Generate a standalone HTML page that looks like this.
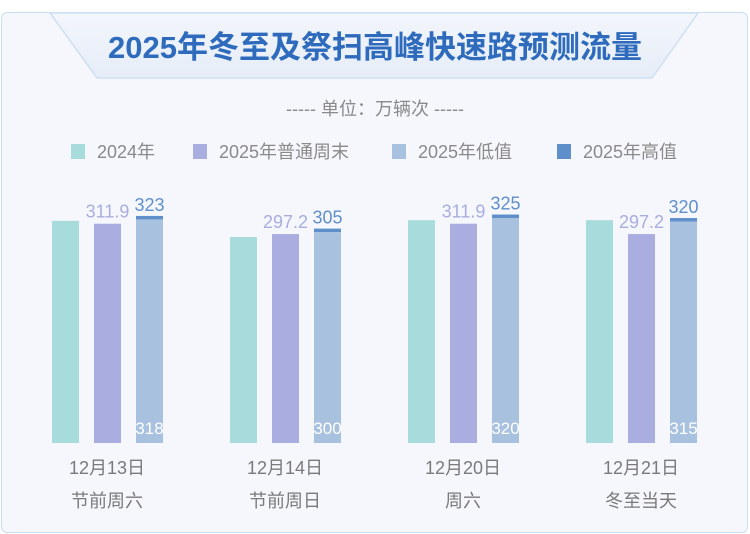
<!DOCTYPE html>
<html><head><meta charset="utf-8"><style>
body{margin:0;width:750px;height:534px;overflow:hidden;background:#fff;font-family:"Liberation Sans","Noto Sans CJK SC",sans-serif;}
#card{position:absolute;left:1px;top:12px;width:747px;height:521px;background:#f5f7fc;border:1.5px solid #c9def0;border-radius:6px;box-sizing:border-box;}
</style></head><body>
<div id="card"></div>
<svg id="chart" width="750" height="534" style="position:absolute;left:0;top:0">
<defs><linearGradient id="bg" x1="0" y1="0" x2="0" y2="1"><stop offset="0" stop-color="#f3f6fb"/><stop offset="1" stop-color="#e6edf8"/></linearGradient></defs>
<polygon points="50,13 698,13 652,78 97,78" fill="url(#bg)" stroke="#cfe0f1" stroke-width="1.5"/>
<text x="375" y="58" text-anchor="middle" font-size="31" font-weight="bold" fill="#2e6bbd">2025年冬至及祭扫高峰快速路预测流量</text>
<text x="375" y="115" text-anchor="middle" font-size="18" fill="#8a8a8a">----- 单位：万辆次 -----</text>
<g id="legend"></g><g id="bars"></g>
</svg>
<script>
const categories=["12月13日","12月14日","12月20日","12月21日"];
const subLabels=["节前周六","节前周日","周六","冬至当天"];
const v2024=[316,293,317,317];
const vWeekend=[311.9,297.2,311.9,297.2];
const vLow=[318,300,320,315];
const vHigh=[323,305,325,320];
const NS="http://www.w3.org/2000/svg";
const base=443,k=0.703,bw=27;
const gx=i=>52+i*178;
const y=v=>base-v*k;
const bars=document.getElementById('bars');
function el(t,a,p){const e=document.createElementNS(NS,t);for(const n in a)e.setAttribute(n,a[n]);(p||bars).appendChild(e);return e;}
categories.forEach((c,i)=>{
 const x=gx(i);
 let r=el('rect',{x:x,y:y(v2024[i]),width:bw,height:base-y(v2024[i]),fill:'#a8dcdc'});
 
 
 r=el('rect',{x:x+42,y:y(vWeekend[i]),width:bw,height:base-y(vWeekend[i]),fill:'#a9addf'});
 
 
 let t=el('text',{x:x+42+bw/2,y:y(vWeekend[i])-6,'text-anchor':'middle','font-size':'18',fill:'#a9addf'});t.textContent=vWeekend[i].toFixed(1);
 
 
 r=el('rect',{x:x+84,y:y(vHigh[i]),width:bw,height:y(vLow[i])-y(vHigh[i]),fill:'#5f8fcb'});
 
 
 r=el('rect',{x:x+84,y:y(vLow[i]),width:bw,height:base-y(vLow[i]),fill:'#a7c1de'});
 
 
 t=el('text',{x:x+84+bw/2,y:y(vHigh[i])-5,'text-anchor':'middle','font-size':'18',fill:'#5f8fcb'});t.textContent=vHigh[i];
 
 
 t=el('text',{x:x+84+bw/2,y:434,'text-anchor':'middle','font-size':'17',fill:'#fff'});t.textContent=vLow[i];
 
 
 t=el('text',{x:x+55,y:474,'text-anchor':'middle','font-size':'18',fill:'#7a7a7a'});t.textContent=c;
 
 
 t=el('text',{x:x+55,y:507,'text-anchor':'middle','font-size':'18',fill:'#7a7a7a'});t.textContent=subLabels[i];
 
 
});
const legNames=["2024年","2025年普通周末","2025年低值","2025年高值"];
const legColors=["#a8dcdc","#a9addf","#a7c1de","#5f8fcb"];
const legX=[71,193,392,557];
const lg=document.getElementById('legend');
legNames.forEach((n,i)=>{
 const g=el('g',{},lg);
 
 
 el('rect',{x:legX[i],y:144,width:14,height:15,fill:legColors[i]},g);
 const t=el('text',{x:legX[i]+26,y:158,'font-size':'18',fill:'#8a8a8a'},g);t.textContent=n;
});
</script>
</body></html>
